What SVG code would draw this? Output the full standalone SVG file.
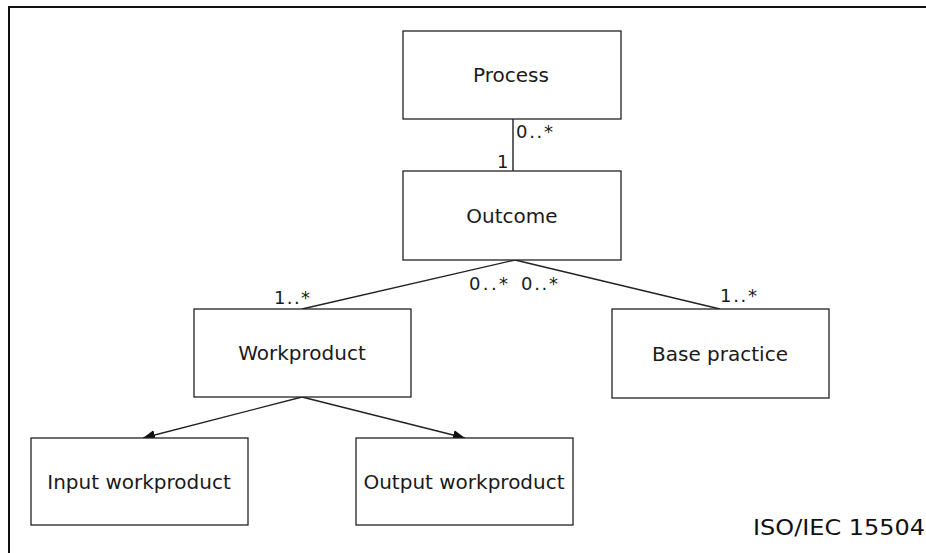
<svg xmlns="http://www.w3.org/2000/svg" width="926" height="553" viewBox="0 0 926 553">
<style>
.box{fill:#fff;stroke:#222;stroke-width:1.3}
.lbl{font-family:"DejaVu Sans",Verdana,sans-serif;font-size:20px;fill:#1a1a1a;text-anchor:middle}
.mult{font-family:"DejaVu Sans",Verdana,sans-serif;font-size:18px;fill:#1a1a1a}
.conn{stroke:#222;stroke-width:1.4;fill:none}
</style>
<defs>
<marker id="arr" viewBox="0 0 12 10" refX="12" refY="5" markerWidth="12" markerHeight="10" markerUnits="userSpaceOnUse" orient="auto">
<path d="M0,0 L12,5 L0,10 Z" fill="#111"/>
</marker>
</defs>
<rect width="926" height="553" fill="#fff"/>
<g id="frame">
<line x1="8" y1="7" x2="926" y2="7" stroke="#111" stroke-width="2"/>
<line x1="9" y1="6" x2="9" y2="553" stroke="#111" stroke-width="2"/>
</g>
<g id="connectors">
<line class="conn" x1="513" y1="119" x2="513" y2="171"/>
<line class="conn" x1="515" y1="260" x2="302" y2="309"/>
<line class="conn" x1="515" y1="260" x2="720" y2="309"/>
<line class="conn" x1="302" y1="397" x2="143" y2="438" marker-end="url(#arr)"/>
<line class="conn" x1="302" y1="397" x2="465" y2="438" marker-end="url(#arr)"/>
<text class="mult" x="516" y="138" textLength="37" lengthAdjust="spacing">0..*</text>
<text class="mult" x="497" y="168">1</text>
<text class="mult" x="274" y="304" textLength="36" lengthAdjust="spacing">1..*</text>
<text class="mult" x="469" y="290" textLength="39" lengthAdjust="spacing">0..*</text>
<text class="mult" x="521" y="290" textLength="37" lengthAdjust="spacing">0..*</text>
<text class="mult" x="720" y="302" textLength="37" lengthAdjust="spacing">1..*</text>
</g>
<g id="process">
<rect class="box" x="403" y="31" width="218" height="88"/>
<text class="lbl" x="511" y="82">Process</text>
</g>
<g id="outcome">
<rect class="box" x="403" y="171" width="218" height="89"/>
<text class="lbl" x="512" y="223">Outcome</text>
</g>
<g id="workproduct">
<rect class="box" x="194" y="309" width="217" height="88"/>
<text class="lbl" x="302" y="360">Workproduct</text>
</g>
<g id="basepractice">
<rect class="box" x="612" y="309" width="217" height="89"/>
<text class="lbl" x="720" y="361">Base practice</text>
</g>
<g id="inputworkproduct">
<rect class="box" x="31" y="438" width="217" height="87"/>
<text class="lbl" x="139" y="489">Input workproduct</text>
</g>
<g id="outputworkproduct">
<rect class="box" x="356" y="438" width="217" height="87"/>
<text class="lbl" x="464" y="489">Output workproduct</text>
</g>
<text id="caption" x="753" y="535" font-family="'DejaVu Sans',Verdana,sans-serif" font-size="21" fill="#111" textLength="172" lengthAdjust="spacingAndGlyphs">ISO/IEC 15504</text>
</svg>
